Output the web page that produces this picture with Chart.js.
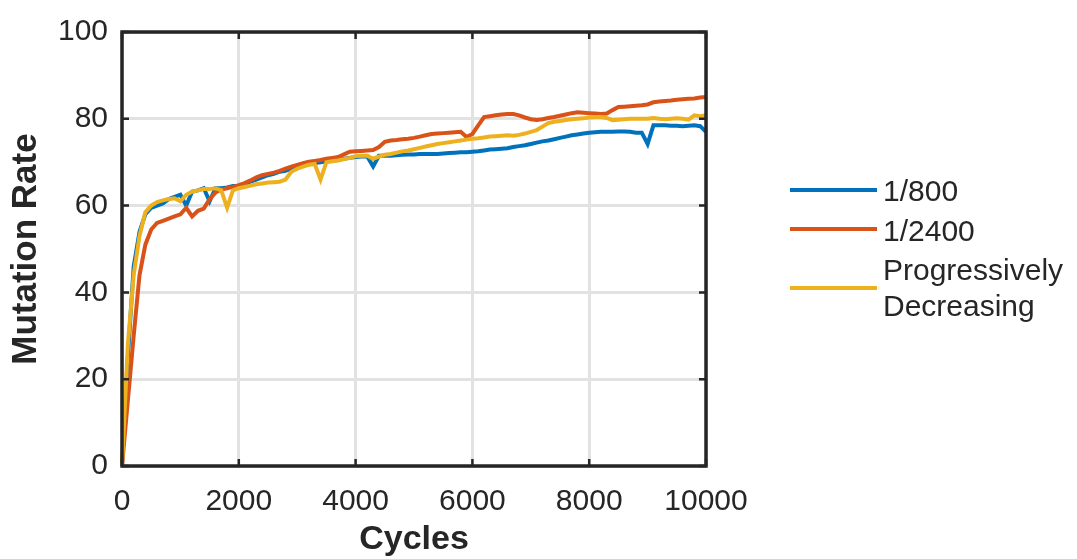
<!DOCTYPE html>
<html><head><meta charset="utf-8">
<script src="https://cdn.jsdelivr.net/npm/chart.js@4.4.0/dist/chart.umd.min.js"></script>
<style>
html,body{margin:0;padding:0;background:#fff;}
#wrap{position:relative;width:1077px;height:559px;overflow:hidden;}
canvas{position:absolute;left:0;top:0;}
.lgt{position:absolute;left:883px;font-family:'Liberation Sans',Arial,sans-serif;font-size:30px;color:#262626;line-height:36px;white-space:nowrap;}
.lgs{position:absolute;left:790px;width:87px;height:4px;}
</style></head>
<body><div id="wrap"><canvas id="c" width="1077" height="559"></canvas><div id="legend"></div></div>
<script>
const cycles = [0,100,200,300,400,500,600,700,800,900,1000,1100,1200,1300,1400,1500,1600,1700,1800,1900,2000,2100,2200,2300,2400,2500,2600,2700,2800,2900,3000,3100,3200,3300,3400,3500,3600,3700,3800,3900,4000,4100,4200,4300,4400,4500,4600,4700,4800,4900,5000,5100,5200,5300,5400,5500,5600,5700,5800,5900,6000,6100,6200,6300,6400,6500,6600,6700,6800,6900,7000,7100,7200,7300,7400,7500,7600,7700,7800,7900,8000,8100,8200,8300,8400,8500,8600,8700,8800,8900,9000,9100,9200,9300,9400,9500,9600,9700,9800,9900,10000];

const rate800 = [0,25,46,54,58,59.5,60,60.5,61.5,62,62.5,60,63.2,63.5,64,61,64,64,64.2,64.5,64.5,65,65.5,66,66.5,67,67.3,67.8,68,68.5,69,69.3,69.5,69.8,70,70.2,70.4,70.5,70.8,71,71.2,71.3,71.3,69,71.5,71.5,71.5,71.6,71.7,71.8,71.8,71.9,71.9,71.9,71.9,72,72.1,72.2,72.3,72.3,72.4,72.5,72.7,72.9,73,73.1,73.2,73.5,73.7,73.9,74.2,74.5,74.8,75,75.3,75.6,75.9,76.2,76.4,76.6,76.8,76.9,77,77,77,77.1,77.1,77,76.8,76.8,74.2,78.5,78.5,78.5,78.4,78.4,78.3,78.4,78.5,78.3,77];

const rate2400 = [0,15,30,44,51,54.5,56,56.5,57,57.5,58,59.5,57.5,58.8,59.3,61.5,63,63.7,64,64.3,64.7,65.2,65.8,66.5,67,67.3,67.6,68,68.5,69,69.4,69.8,70.1,70.3,70.5,70.8,71,71.2,71.8,72.4,72.5,72.6,72.7,72.8,73.5,74.7,75,75.1,75.3,75.4,75.6,75.9,76.2,76.5,76.6,76.7,76.8,76.9,77,75.8,76.5,78.5,80.4,80.6,80.8,81,81.1,81.1,80.8,80.3,79.9,79.7,79.9,80.2,80.4,80.7,81,81.3,81.5,81.4,81.3,81.2,81.1,81.2,82,82.7,82.8,82.9,83,83.1,83.3,83.8,84,84.1,84.2,84.4,84.5,84.6,84.7,84.9,85];

const rateProg = [0,28,44,53,58.5,60,60.8,61.2,61.5,61.7,61,62.5,63.2,63.5,63.8,63.8,64,63.5,59.5,63.5,64,64.3,64.6,64.9,65.1,65.3,65.4,65.5,66,67.8,68.5,69,69.4,69.6,66,70,70.2,70.4,70.7,71,71.4,71.5,71.5,70.8,71.3,71.7,71.9,72.2,72.5,72.7,73,73.3,73.6,73.9,74.2,74.4,74.6,74.8,75,75.2,75.4,75.5,75.7,75.9,76,76.1,76.2,76.1,76.3,76.6,77,77.4,78.2,79,79.3,79.5,79.7,79.9,80,80.1,80.3,80.4,80.4,80.2,79.7,79.8,79.9,80,80,80,80,80.2,80,79.9,80,80.1,80,79.8,80.8,80.6,80.8];

const seriesNames = ['1/800', '1/2400', 'Progressively\nDecreasing'];
const seriesValues = [rate800, rate2400, rateProg];
const seriesColors = ['#0072BD', '#D95319', '#EDB120'];
const xTicks = [0, 2000, 4000, 6000, 8000, 10000];
const yTicks = [0, 20, 40, 60, 80, 100];

const FONT = "'Liberation Sans', Arial, Helvetica, sans-serif";
const AX = '#262626';

const framePlugin = {
  id: 'frame',
  afterDatasetsDraw(chart) {
    const {ctx, chartArea: a, scales} = chart;
    ctx.save();
    ctx.strokeStyle = AX;
    ctx.lineWidth = 3.5;
    ctx.lineCap = 'square';
    ctx.strokeRect(a.left, a.top, a.right - a.left, a.bottom - a.top);
    ctx.lineWidth = 2.5;
    ctx.lineCap = 'butt';
    const tl = 7;
    ctx.beginPath();
    xTicks.forEach(v => {
      const px = scales.x.getPixelForValue(v);
      ctx.moveTo(px, a.bottom); ctx.lineTo(px, a.bottom - tl);
      ctx.moveTo(px, a.top); ctx.lineTo(px, a.top + tl);
    });
    yTicks.forEach(v => {
      const py = scales.y.getPixelForValue(v);
      ctx.moveTo(a.left, py); ctx.lineTo(a.left + tl, py);
      ctx.moveTo(a.right, py); ctx.lineTo(a.right - tl, py);
    });
    ctx.stroke();
    ctx.restore();
  }
};

const ctx = document.getElementById('c').getContext('2d');
new Chart(ctx, {
  type: 'line',
  data: {
    datasets: seriesNames.map((n, i) => ({
      label: n,
      data: cycles.map((c, j) => ({x: c, y: seriesValues[i][j]})),
      borderColor: seriesColors[i],
      backgroundColor: seriesColors[i],
      borderWidth: 4,
      pointRadius: 0,
      tension: 0,
      fill: false,
      clip: false,
      order: seriesNames.length - i
    }))
  },
  options: {
    responsive: false,
    animation: false,
    layout: {padding: {left: 0, top: 30, right: 371, bottom: 0}},
    plugins: {legend: {display: false}, tooltip: {enabled: false}},
    scales: {
      x: {
        type: 'linear', min: 0, max: 10000,
        afterBuildTicks(s) { s.ticks = xTicks.map(v => ({value: v})); },
        ticks: {color: AX, font: {family: FONT, size: 30}, padding: 18, maxRotation: 0, autoSkip: false, callback: v => String(v)},
        grid: {color: '#e2e2e2', lineWidth: 3, drawTicks: false},
        border: {display: false},
        title: {display: true, text: 'Cycles', color: AX, font: {family: FONT, size: 34, weight: 'bold', lineHeight: 1}, padding: {top: 0, bottom: 2}},
        afterFit(s) { s.height = 93; }
      },
      y: {
        type: 'linear', min: 0, max: 100,
        afterBuildTicks(s) { s.ticks = yTicks.map(v => ({value: v})); },
        ticks: {color: AX, font: {family: FONT, size: 30}, padding: 14, autoSkip: false, callback: v => String(v)},
        grid: {color: '#e2e2e2', lineWidth: 3, drawTicks: false},
        border: {display: false},
        title: {display: true, text: 'Mutation Rate', color: AX, font: {family: FONT, size: 35, weight: 'bold', lineHeight: 1}, padding: {top: 9, bottom: 0}},
        afterFit(s) { s.width = 122; }
      }
    }
  },
  plugins: [framePlugin]
});

// Legend (HTML, real text) built from the series arrays
const legendRows = [
  {swTop: 188, txtTop: 173},
  {swTop: 227, txtTop: 213},
  {swTop: 286, txtTop: 252}
];
const lg = document.getElementById('legend');
seriesNames.forEach((n, i) => {
  const sw = document.createElement('div');
  sw.className = 'lgs';
  sw.style.top = legendRows[i].swTop + 'px';
  sw.style.background = seriesColors[i];
  lg.appendChild(sw);
  const t = document.createElement('div');
  t.className = 'lgt';
  t.style.top = legendRows[i].txtTop + 'px';
  t.innerHTML = n.split('\n').join('<br>');
  lg.appendChild(t);
});
</script>
</body></html>
